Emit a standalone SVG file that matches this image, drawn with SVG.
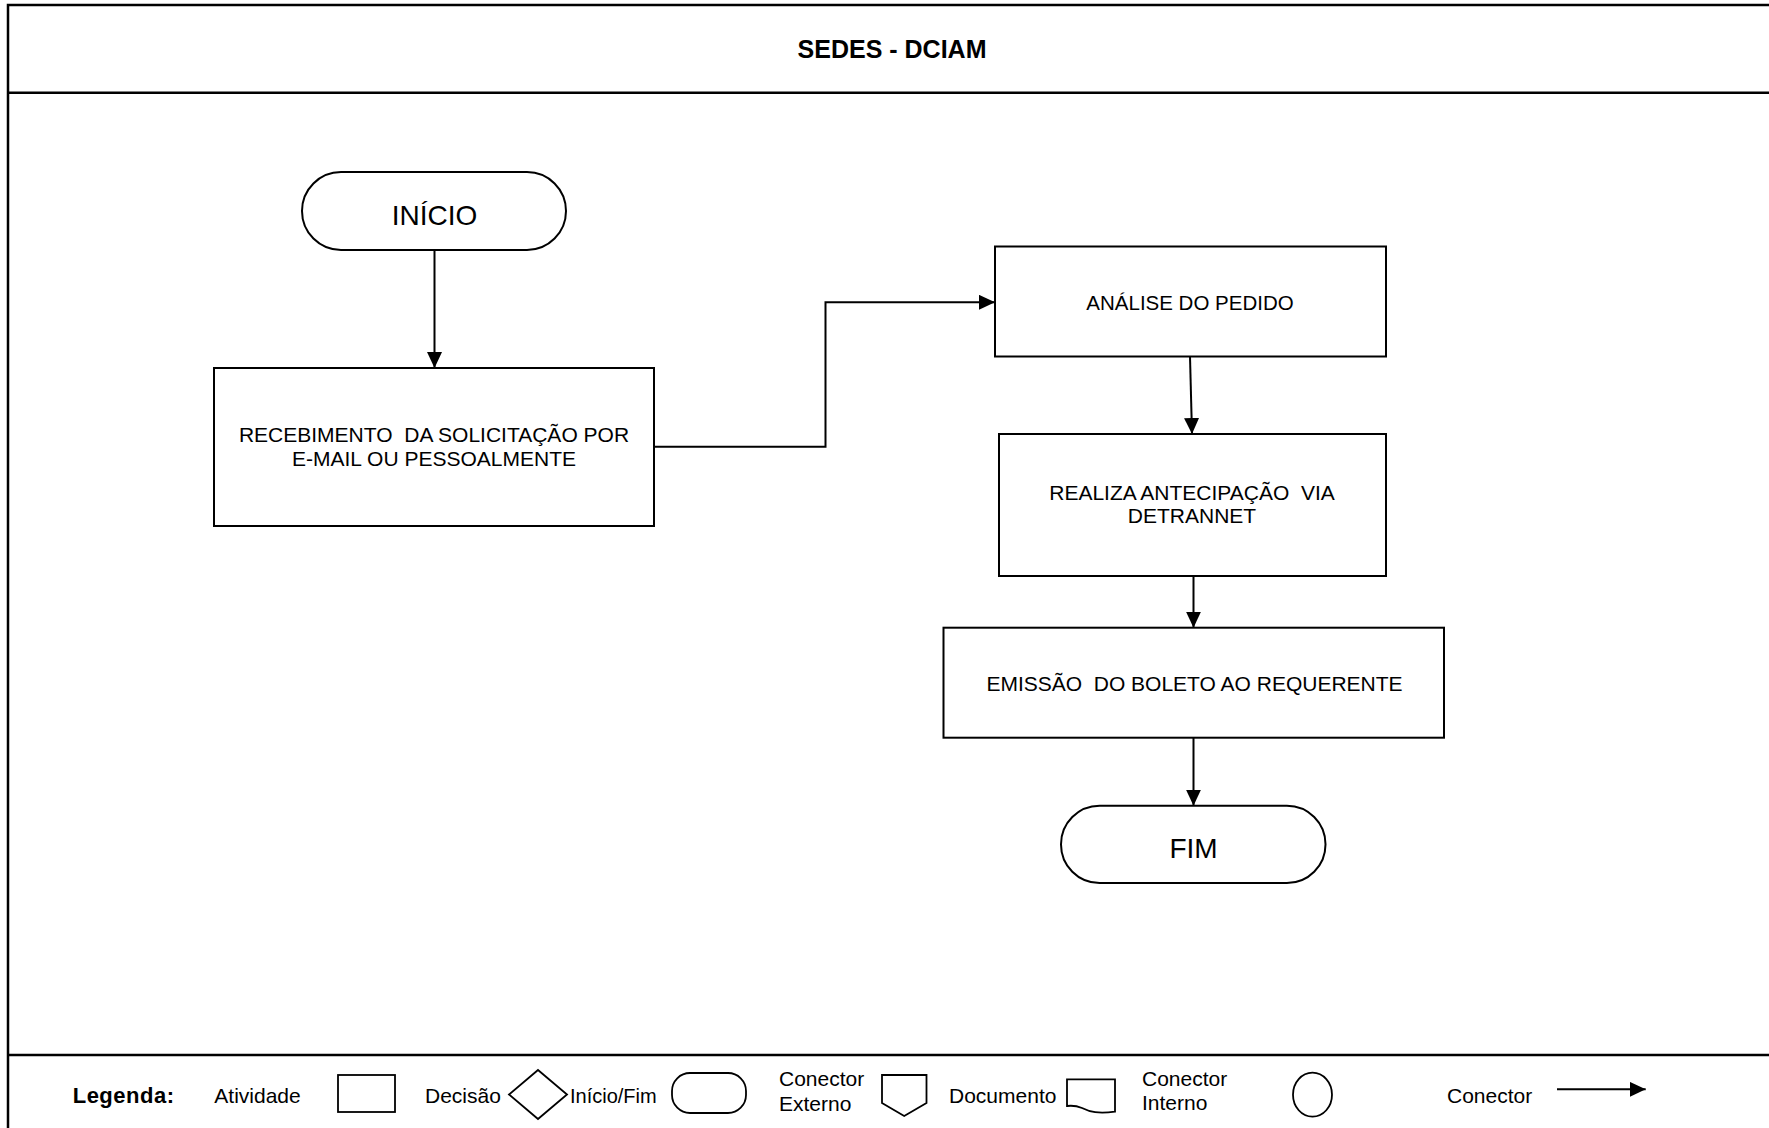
<svg xmlns="http://www.w3.org/2000/svg" width="1769" height="1128" viewBox="0 0 1769 1128">
<style>
  .frame{fill:none;stroke:#000;stroke-width:2.5}
  .node{fill:#fff;stroke:#000;stroke-width:2}
  .leg{fill:#fff;stroke:#000;stroke-width:1.8}
  .conn{fill:none;stroke:#000;stroke-width:2}
  text{font-family:"Liberation Sans",Arial,sans-serif;fill:#000}
  .t{font-size:21px;text-anchor:middle}
  .big{font-size:28px;text-anchor:middle}
  .title{font-size:25px;font-weight:bold;text-anchor:middle}
  .lt{font-size:21px}
</style>
<defs>
  <marker id="arrow" markerUnits="userSpaceOnUse" markerWidth="16" markerHeight="15" refX="16" refY="7.5" orient="auto">
    <path d="M0,0 L16,7.5 L0,15 Z" fill="#000"/>
  </marker>
</defs>
<rect width="1769" height="1128" fill="#fff"/>

<g id="frame">
  <path class="frame" d="M8,1130 V5 H1771"/>
  <line class="frame" x1="8" y1="92.7" x2="1771" y2="92.7"/>
  <line class="frame" x1="8" y1="1055" x2="1771" y2="1055"/>
  <text class="title" x="892" y="57.7">SEDES - DCIAM</text>
</g>

<g id="connectors">
  <line class="conn" x1="434.5" y1="250" x2="434.5" y2="368" marker-end="url(#arrow)"/>
  <polyline class="conn" points="654,446.7 825.5,446.7 825.5,302.3 995,302.3" marker-end="url(#arrow)"/>
  <line class="conn" x1="1190" y1="356.5" x2="1192" y2="434" marker-end="url(#arrow)"/>
  <line class="conn" x1="1193.5" y1="576" x2="1193.5" y2="627.7" marker-end="url(#arrow)"/>
  <line class="conn" x1="1193.5" y1="737.7" x2="1193.5" y2="805.7" marker-end="url(#arrow)"/>
</g>

<g id="inicio">
  <rect class="node" x="302" y="172" width="264" height="78" rx="39" ry="39"/>
  <text class="big" x="434.5" y="225">INÍCIO</text>
</g>

<g id="recebimento">
  <rect class="node" x="214" y="368" width="440" height="158"/>
  <text class="t" x="434" y="442.3" xml:space="preserve">RECEBIMENTO  DA SOLICITAÇÃO POR</text>
  <text class="t" x="434" y="466.3">E-MAIL OU PESSOALMENTE</text>
</g>

<g id="analise">
  <rect class="node" x="995" y="246.5" width="391" height="110"/>
  <text class="t" x="1190" y="310" style="font-size:20.5px">ANÁLISE DO PEDIDO</text>
</g>

<g id="realiza">
  <rect class="node" x="999" y="434" width="387" height="142"/>
  <text class="t" x="1192" y="500" xml:space="preserve">REALIZA ANTECIPAÇÃO  VIA</text>
  <text class="t" x="1192" y="523">DETRANNET</text>
</g>

<g id="emissao">
  <rect class="node" x="943.5" y="627.7" width="500.5" height="110"/>
  <text class="t" x="1194.5" y="691" xml:space="preserve">EMISSÃO  DO BOLETO AO REQUERENTE</text>
</g>

<g id="fim">
  <rect class="node" x="1061" y="805.7" width="264.5" height="77.3" rx="38.6" ry="38.6"/>
  <text class="big" x="1193.5" y="857.7">FIM</text>
</g>

<g id="legenda">
  <text class="lt" x="72.7" y="1103" style="font-weight:bold;font-size:22px;letter-spacing:0.5px">Legenda:</text>
  <text class="lt" x="214.3" y="1103">Atividade</text>
  <rect class="leg" x="338" y="1075" width="57" height="37"/>
  <text class="lt" x="425" y="1103">Decisão</text>
  <polygon class="leg" points="538,1070 567,1094.5 538,1119 509,1094.5"/>
  <text class="lt" x="570" y="1103" style="font-size:20px">Início/Fim</text>
  <rect class="leg" x="672" y="1073" width="74" height="40" rx="18" ry="18"/>
  <text class="lt" x="779" y="1086">Conector</text>
  <text class="lt" x="779" y="1110.7">Externo</text>
  <polygon class="leg" points="882,1075 926.5,1075 926.5,1103 904.2,1116 882,1103"/>
  <text class="lt" x="949" y="1103">Documento</text>
  <path class="leg" d="M1067,1079.3 L1115,1079.3 L1115,1111.7 C1098,1114 1090,1112 1082,1108 C1076,1105.5 1071,1105.5 1067,1106 Z"/>
  <text class="lt" x="1142" y="1086">Conector</text>
  <text class="lt" x="1142" y="1110">Interno</text>
  <ellipse class="leg" cx="1312.5" cy="1094.7" rx="19.5" ry="22"/>
  <text class="lt" x="1447" y="1103">Conector</text>
  <line class="conn" x1="1557" y1="1089.3" x2="1645.7" y2="1089.3" marker-end="url(#arrow)"/>
</g>
</svg>
